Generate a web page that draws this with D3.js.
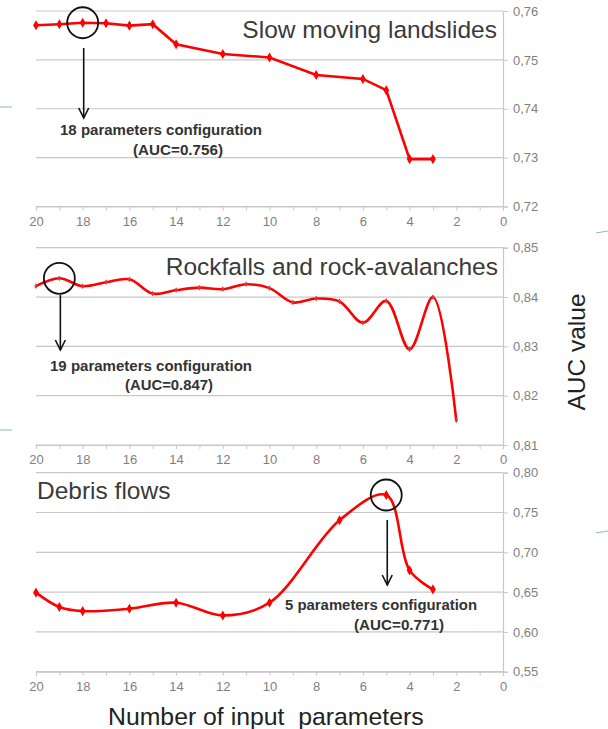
<!DOCTYPE html>
<html>
<head>
<meta charset="utf-8">
<script src="https://cdn.jsdelivr.net/npm/d3@7"></script>
<style>
  body { margin: 0; background: #fff; }
  svg { font-family: "Liberation Sans", Arial, sans-serif; }
</style>
</head>
<body>
<div id="chart"></div>
<script>
// number of input parameters (x) and AUC values for each landslide type
const xSlow = [20, 19, 18, 17, 16, 15, 14, 12, 10, 8, 6, 5, 4, 3];
const aucSlow = [0.7571, 0.7573, 0.7576, 0.7575, 0.7570, 0.7573, 0.7532, 0.7512, 0.7505, 0.7469, 0.7461, 0.7438, 0.7297, 0.7297];

const xRock = [20, 19, 18, 17, 16, 15, 14, 13, 12, 11, 10, 9, 8, 7, 6, 5, 4, 3, 2];
const aucRock = [0.8422, 0.8438, 0.8422, 0.8430, 0.8436, 0.8407, 0.8414, 0.8419, 0.8416, 0.8426, 0.8418, 0.8389, 0.8397, 0.8391, 0.8348, 0.8392, 0.8294, 0.8400, 0.8150];

const xDebris = [20, 19, 18, 16, 14, 12, 10, 7, 5, 4, 3];
const aucDebris = [0.6493, 0.6312, 0.6261, 0.6291, 0.6367, 0.6207, 0.6367, 0.7403, 0.7720, 0.6773, 0.6534];

const xTicks = [20, 18, 16, 14, 12, 10, 8, 6, 4, 2, 0];
const yTicksSlow = [0.72, 0.73, 0.74, 0.75, 0.76];
const yTicksRock = [0.81, 0.82, 0.83, 0.84, 0.85];
const yTicksDebris = [0.55, 0.60, 0.65, 0.70, 0.75, 0.80];

const width = 608, height = 729;
const red = '#ff0000';

var svg = d3.select('#chart').append('svg')
    .attr('width', width)
    .attr('height', height);

var x = d3.scaleLinear().domain([20, 0]).range([36, 503]);

var panels = [
    {title: 'Slow moving landslides', titleX: 497, titleY: 38, anchor: 'end',
     xs: xSlow, ys: aucSlow, ticks: yTicksSlow, range: [206.5, 11], smooth: false, marker: 7,
     best: 18, text1: '18 parameters configuration', text2: '(AUC=0.756)',
     t1: [60, 135, 202], t2: [133, 155, 90], arrow: [48, 118]},
    {title: 'Rockfalls and rock-avalanches', titleX: 498, titleY: 275, anchor: 'end',
     xs: xRock, ys: aucRock, ticks: yTicksRock, range: [445, 247.7], smooth: true, marker: 4,
     best: 19, text1: '19 parameters configuration', text2: '(AUC=0.847)',
     t1: [50, 371, 202], t2: [125, 390, 88], arrow: [295, 350]},
    {title: 'Debris flows', titleX: 37, titleY: 499, anchor: 'start',
     xs: xDebris, ys: aucDebris, ticks: yTicksDebris, range: [671.7, 472.7], smooth: true, marker: 7,
     best: 5, text1: '5 parameters configuration', text2: '(AUC=0.771)',
     t1: [285, 610, 192], t2: [354, 630, 90], arrow: [520, 585]}
];

panels.forEach(function(p, i) {
    var y = d3.scaleLinear()
        .domain(d3.extent(p.ticks))
        .range(p.range);
    var g = svg.append('g').attr('class', 'panel-' + i);

    //gridlines
    g.selectAll('line.grid')
        .data(p.ticks)
        .enter()
        .append('line')
        .attr('class', 'grid')
        .attr('x1', x(20)).attr('x2', x(0))
        .attr('y1', d => y(d)).attr('y2', d => y(d))
        .attr('stroke', '#c8c8c8')
        .attr('stroke-width', 1.2);

    //right axis
    var axisRight = d3.axisRight(y)
        .tickValues(p.ticks)
        .tickSize(5)
        .tickPadding(5)
        .tickFormat(d => d3.format('.2f')(d).replace('.', ','));
    g.append('g')
        .attr('class', 'rightAxis')
        .attr('transform', 'translate(' + x(0) + ',0)')
        .call(axisRight);

    //bottom axis with minor ticks every unit
    var axisBottom = d3.axisBottom(x)
        .tickValues(d3.range(0, 21))
        .tickSize(4)
        .tickPadding(6)
        .tickFormat(d => xTicks.indexOf(d) >= 0 ? d : '');
    g.append('g')
        .attr('class', 'bottomAxis')
        .attr('transform', 'translate(0,' + p.range[0] + ')')
        .call(axisBottom);

    g.selectAll('.domain').attr('stroke', '#c8c8c8').attr('stroke-width', 1.2);
    g.selectAll('.tick line').attr('stroke', '#c8c8c8');
    g.selectAll('.tick text').attr('fill', '#7f7f7f').attr('font-size', 13);

    //line
    var pts = p.xs.map((d, j) => [d, p.ys[j]]);
    var line = d3.line()
        .x(d => x(d[0]))
        .y(d => y(d[1]))
        .curve(p.smooth ? d3.curveCatmullRom.alpha(0.5) : d3.curveLinear);
    g.append('path')
        .datum(pts)
        .attr('d', line)
        .attr('fill', 'none')
        .attr('stroke', red)
        .attr('stroke-width', 2.6);

    g.selectAll('path.marker')
        .data(pts)
        .enter()
        .append('path')
        .attr('class', 'marker')
        .attr('transform', d => 'translate(' + x(d[0]) + ',' + y(d[1]) + ')')
        .attr('d', d3.symbol(d3.symbolDiamond, p.marker * p.marker * 0.6))
        .attr('fill', p.marker > 5 ? red : '#d43a3a');

    //title
    g.append('text')
        .attr('x', p.titleX)
        .attr('y', p.titleY)
        .attr('text-anchor', p.anchor)
        .attr('font-size', 24.5)
        .attr('fill', '#3a3a3a')
        .text(p.title);

    //highlight circle + arrow + annotation
    var bi = p.xs.indexOf(p.best);
    var cx = x(p.best), cy = y(p.ys[bi]);
    g.append('circle')
        .attr('cx', cx).attr('cy', cy).attr('r', 15.5)
        .attr('fill', 'none')
        .attr('stroke', '#111')
        .attr('stroke-width', 1.8);
    g.append('line')
        .attr('x1', cx + 1).attr('x2', cx + 1)
        .attr('y1', p.arrow[0]).attr('y2', p.arrow[1])
        .attr('stroke', '#111').attr('stroke-width', 1.6);
    g.append('path')
        .attr('d', 'M' + (cx - 4) + ',' + (p.arrow[1] - 10) + 'L' + (cx + 1) + ',' + p.arrow[1] + 'L' + (cx + 6) + ',' + (p.arrow[1] - 10))
        .attr('fill', 'none')
        .attr('stroke', '#111').attr('stroke-width', 1.6);
    [[p.t1, p.text1], [p.t2, p.text2]].forEach(function(t) {
        g.append('text')
            .attr('x', t[0][0]).attr('y', t[0][1])
            .attr('font-size', 14).attr('font-weight', 'bold')
            .attr('textLength', t[0][2])
            .attr('lengthAdjust', 'spacingAndGlyphs')
            .attr('fill', '#333')
            .text(t[1]);
    });
});

//axis titles
svg.append('text')
    .attr('x', 108).attr('y', 725)
    .attr('font-size', 24.8)
    .attr('fill', '#222')
    .style('white-space', 'pre')
    .text('Number of input  parameters');

svg.append('text')
    .attr('transform', 'translate(585,352) rotate(-90)')
    .attr('text-anchor', 'middle')
    .attr('font-size', 24.5)
    .attr('fill', '#222')
    .text('AUC value');

//stray slide connector lines at the edges
var strays = [[0, 107, 12, 107], [0, 430, 12, 430], [596, 233, 608, 231], [596, 533, 608, 531]];
svg.selectAll('line.stray')
    .data(strays)
    .enter()
    .append('line')
    .attr('x1', d => d[0]).attr('y1', d => d[1])
    .attr('x2', d => d[2]).attr('y2', d => d[3])
    .attr('stroke', '#8cc08c').attr('stroke-width', 1);
</script>
</body>
</html>
